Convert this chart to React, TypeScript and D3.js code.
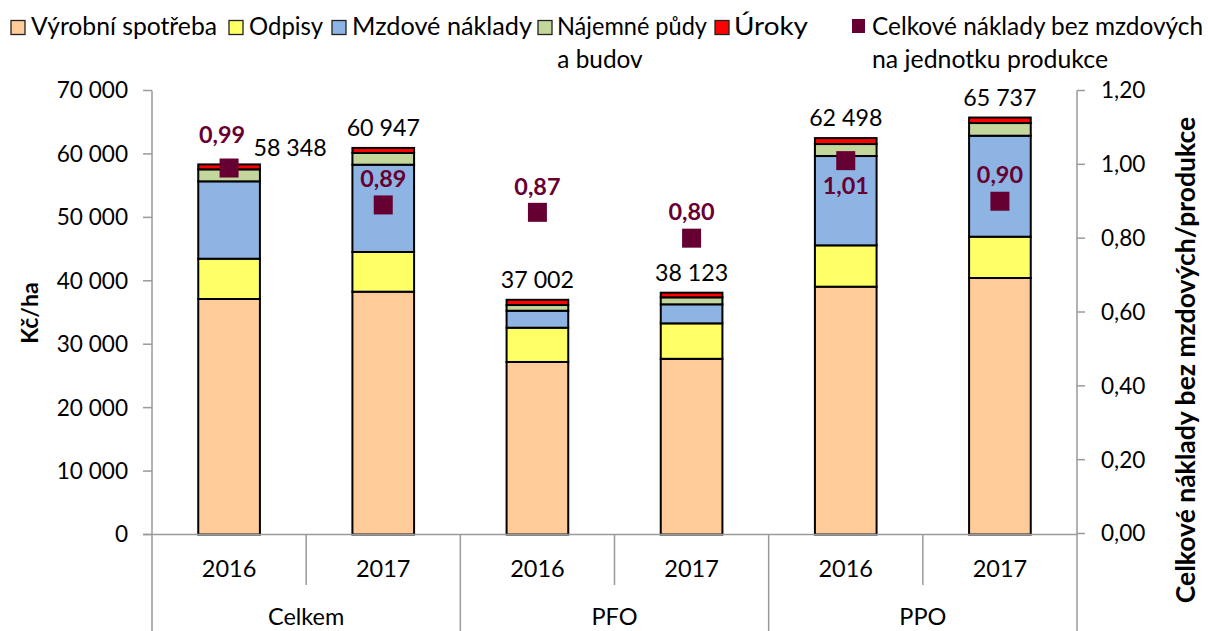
import React from "react";
import * as d3 from "d3";

const categories = ["Celkem 2016", "Celkem 2017", "PFO 2016", "PFO 2017", "PPO 2016", "PPO 2017"];
const years = ["2016", "2017", "2016", "2017", "2016", "2017"];
const groups = ["Celkem", "PFO", "PPO"];
const seriesNames = ["Výrobní spotřeba", "Odpisy", "Mzdové náklady", "Nájemné půdy a budov", "Úroky"];
const vyrobniSpotreba = [37130, 38280, 27200, 27700, 39070, 40440];
const odpisy = [6350, 6260, 5400, 5590, 6520, 6510];
const mzdoveNaklady = [12200, 13760, 2680, 3000, 14080, 15920];
const najemne = [1890, 1850, 900, 1100, 1890, 2000];
const uroky = [778, 797, 822, 733, 938, 867];
const totals = [58348, 60947, 37002, 38123, 62498, 65737];
const naklady = [0.99, 0.89, 0.87, 0.8, 1.01, 0.9];
const leftTicks = [0, 10000, 20000, 30000, 40000, 50000, 60000, 70000];
const rightTicks = [0, 0.2, 0.4, 0.6, 0.8, 1.0, 1.2];

const colors = ["#FFCC99", "#FFFF66", "#8EB4E3", "#C3D69B", "#FF0000"];
const markerColor = "#660033";
const axisColor = "#9a9a9a";
const FONT = "Lato, 'Open Sans', sans-serif";

const loc = d3.formatLocale({ decimal: ",", thousands: " ", grouping: [3], currency: ["", ""] });
const fmtInt = loc.format(",d");
const fmt2 = loc.format(".2f");

export default function App() {
  const W = 1208, H = 631;
  const left = 152, right = 1077, top = 90.5, bottom = 534.5;
  const x = d3.scaleBand().domain(categories).range([left, right]).paddingInner(0.6).paddingOuter(0.3);
  const step = x.step();
  const y = d3.scaleLinear().domain([0, 70000]).range([bottom, top]);
  const y2 = d3.scaleLinear().domain([0, 1.2]).range([bottom - 1, top]);
  const seriesData = [vyrobniSpotreba, odpisy, mzdoveNaklady, najemne, uroky];
  const table = categories.map((c, i) => {
    const o: any = { cat: c };
    seriesNames.forEach((s, k) => (o[s] = seriesData[k][i]));
    return o;
  });
  const stacked = d3.stack().keys(seriesNames)(table);
  const catStart = (i: number) => left + i * (right - left) / categories.length;

  const legend = [
    { sq: 11, tx: 31, tw: 186, label: ["Výrobní spotřeba"], color: colors[0] },
    { sq: 229, tx: 249, tw: 74, label: ["Odpisy"], color: colors[1] },
    { sq: 332, tx: 352, tw: 180, label: ["Mzdové náklady"], color: colors[2] },
    { sq: 538, tx: 557, tw: 150, label: ["Nájemné půdy", "a budov"], color: colors[3] },
    { sq: 715, tx: 734, tw: 74, label: ["Úroky"], color: colors[4] },
  ];

  return (
    <svg width={W} height={H} style={{ position: "absolute", left: 0, top: 0, background: "#fff" }} fontFamily={FONT}>
      {legend.map((l, i) => (
        <g key={i}>
          <rect x={l.sq} y={20.5} width={14} height={14} fill={l.color} stroke="#222" strokeWidth={1.3} />
          <text x={l.tx} y={35} fontSize={24.4} fill="#000" textLength={l.tw} lengthAdjust="spacingAndGlyphs">{l.label[0]}</text>
          {l.label[1] && (
            <text x={600} y={67.5} fontSize={24.4} textAnchor="middle" fill="#000">{l.label[1]}</text>
          )}
        </g>
      ))}
      <rect x={852} y={19} width={13} height={14} fill={markerColor} />
      <text x={872} y={35} fontSize={24.4} textLength={331} lengthAdjust="spacingAndGlyphs">Celkové náklady bez mzdových</text>
      <text x={872} y={67.5} fontSize={24.4} textLength={236} lengthAdjust="spacingAndGlyphs">na jednotku produkce</text>

      {stacked.map((s, k) => (
        <g key={k}>
          {s.map((d, i) => (
            <rect key={i} x={x(categories[i])} y={y(d[1])} width={x.bandwidth()} height={y(d[0]) - y(d[1])}
              fill={colors[k]} stroke="#000" strokeWidth={2} />
          ))}
        </g>
      ))}

      <line x1={left} x2={left} y1={top} y2={H} stroke={axisColor} strokeWidth={1.5} />
      <line x1={right} x2={right} y1={top} y2={H} stroke={axisColor} strokeWidth={1.5} />
      <line x1={left - 9} x2={right} y1={bottom} y2={bottom} stroke={axisColor} strokeWidth={1.5} />
      {leftTicks.map((t) => (
        <g key={t}>
          <line x1={left - 9} x2={left} y1={y(t)} y2={y(t)} stroke={axisColor} strokeWidth={1.5} />
          <text x={128} y={y(t)} dy="0.35em" textAnchor="end" fontSize={22.6}>{fmtInt(t)}</text>
        </g>
      ))}
      {rightTicks.map((t) => (
        <g key={t}>
          <line x1={right} x2={right + 8} y1={y2(t)} y2={y2(t)} stroke={axisColor} strokeWidth={1.5} />
          <text x={1101} y={y2(t)} dy="0.35em" textAnchor="start" fontSize={22.6}>{fmt2(t)}</text>
        </g>
      ))}
      {categories.map((c, i) => (
        <g key={c}>
          {i > 0 && (
            <line x1={catStart(i)} x2={catStart(i)} y1={bottom} y2={i % 2 === 0 ? H : 585} stroke={axisColor} strokeWidth={1.5} />
          )}
          <text x={catStart(i) + step / 2} y={569} dy="0.35em" textAnchor="middle" fontSize={23.5}>{years[i]}</text>
        </g>
      ))}
      {groups.map((g, j) => (
        <text key={g} x={catStart(j * 2) + step} y={625} textAnchor="middle" fontSize={23.5}>{g}</text>
      ))}

      <text transform={`translate(38, 313) rotate(-90)`} textAnchor="middle" fontSize={23} fontWeight="bold">Kč/ha</text>
      <text transform={`translate(1195, 360) rotate(-90)`} textAnchor="middle" fontSize={26.5} fontWeight="bold">Celkové náklady bez mzdových/produkce</text>

      {totals.map((t, i) => {
        const cx = (x(categories[i]) as number) + x.bandwidth() / 2;
        const first = i === 0;
        return (
          <text key={i} x={first ? cx + 61 : cx} y={first ? y(t) - 17 : y(t) - 20} dy="0.35em" textAnchor="middle" fontSize={23.2}>
            {fmtInt(t)}
          </text>
        );
      })}

      {naklady.map((v, i) => {
        const cx = (x(categories[i]) as number) + x.bandwidth() / 2;
        const cy = y2(v);
        const below = i === 4;
        const lx = i === 0 ? cx - 7 : cx;
        const ly = i === 0 ? cy - 33 : below ? cy + 25 : cy - 26;
        return (
          <g key={i}>
            <rect x={cx - 9.5} y={cy - 9.5} width={19} height={19} fill={markerColor} />
            <text x={lx} y={ly} dy="0.35em" textAnchor="middle" fontSize={23.4} fontWeight="bold" fill={markerColor}>{fmt2(v)}</text>
          </g>
        );
      })}
    </svg>
  );
}
